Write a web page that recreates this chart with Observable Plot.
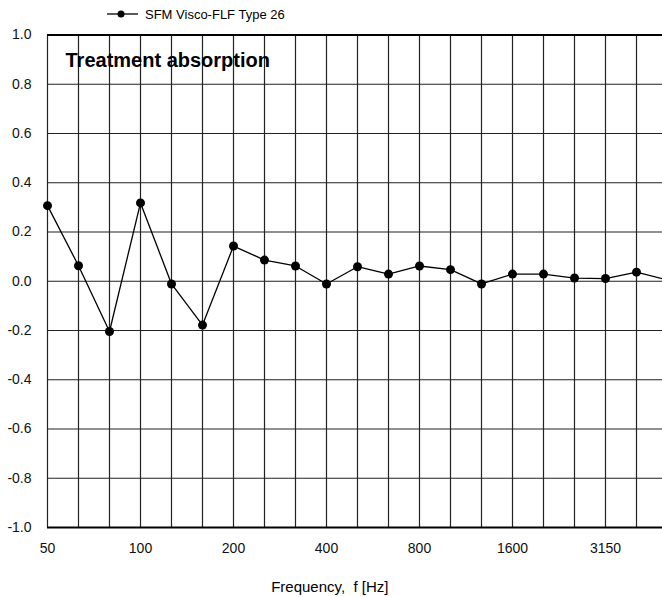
<!DOCTYPE html>
<html>
<head>
<meta charset="utf-8">
<script src="https://cdn.jsdelivr.net/npm/d3@7"></script>
<script src="https://cdn.jsdelivr.net/npm/@observablehq/plot@0.6"></script>
<style>
  html, body { margin: 0; padding: 0; background: white; overflow: hidden; }
  #wrap { position: relative; width: 662px; height: 597px; overflow: hidden; }
  #legend { position: absolute; left: 0; top: 0; }
</style>
</head>
<body>
<div id="wrap"></div>
<script>
const freqs = ["50","63","80","100","125","160","200","250","315","400","500","630","800","1000","1250","1600","2000","2500","3150","4000","5000"];
const values = [0.307, 0.063, -0.204, 0.318, -0.011, -0.178, 0.143, 0.086, 0.062, -0.011, 0.059, 0.029, 0.062, 0.047, -0.011, 0.029, 0.029, 0.013, 0.011, 0.037, 0.005];
const labeledFreqs = ["50","100","200","400","800","1600","3150"];
const yTicks = [-1, -0.8, -0.6, -0.4, -0.2, 0, 0.2, 0.4, 0.6, 0.8, 1];
const seriesName = "SFM Visco-FLF Type 26";
const chartTitle = "Treatment absorption";
const xTitle = "Frequency,  f [Hz]";

const data = freqs.map((f, i) => ({f, v: values[i]}));
const font = "'Liberation Sans', Arial, sans-serif";

const chart = Plot.plot({
  width: 662,
  height: 597,
  marginLeft: 47,
  marginRight: -9.6,
  marginTop: 34.5,
  marginBottom: 70,
  style: {fontFamily: font, fontSize: "14px", background: "white", overflow: "hidden", color: "#111"},
  x: {type: "point", domain: freqs, padding: 0, align: 0},
  y: {domain: [-1, 1]},
  marks: [
    Plot.ruleX(freqs, {stroke: "#222", strokeWidth: 1.2}),
    Plot.ruleY(yTicks, {stroke: "#222", strokeWidth: 1.2}),
    Plot.ruleY([-1], {stroke: "#000", strokeWidth: 2.2}),
    Plot.ruleY([1], {stroke: "#000", strokeWidth: 1.8}),
    Plot.axisY({ticks: yTicks, tickSize: 0, tickPadding: 16, tickFormat: d => d.toFixed(1), label: null, fontSize: 14}),
    Plot.axisX({ticks: labeledFreqs, tickSize: 0, tickPadding: 16, label: null, fontSize: 14}),
    Plot.line(data, {x: "f", y: "v", stroke: "#000", strokeWidth: 1.3}),
    Plot.dot(data, {x: "f", y: "v", r: 4.5, fill: "#000", stroke: "none"}),
    Plot.text([chartTitle], {frameAnchor: "top-left", dx: 18, dy: 26, lineAnchor: "middle", textAnchor: "start", fontWeight: "bold", fontSize: 20, fill: "#000"}),
    Plot.text([xTitle], {frameAnchor: "bottom", dx: -30, dy: 60, lineAnchor: "middle", fontSize: 15, fill: "#000"})
  ]
});

const wrap = document.getElementById("wrap");
wrap.appendChild(chart);

// legend above the plot area
const legend = d3.create("svg")
  .attr("id", "legend")
  .attr("width", 330).attr("height", 30)
  .style("font-family", font);
legend.append("line").attr("x1", 107).attr("x2", 138).attr("y1", 14).attr("y2", 14).attr("stroke", "#000").attr("stroke-width", 1.3);
legend.append("circle").attr("cx", 121).attr("cy", 14).attr("r", 3.5).attr("fill", "#000");
legend.append("text").attr("x", 145).attr("y", 14).attr("dy", "0.35em").attr("font-size", 13).attr("fill", "#000").text(seriesName);
wrap.appendChild(legend.node());
</script>
</body>
</html>
